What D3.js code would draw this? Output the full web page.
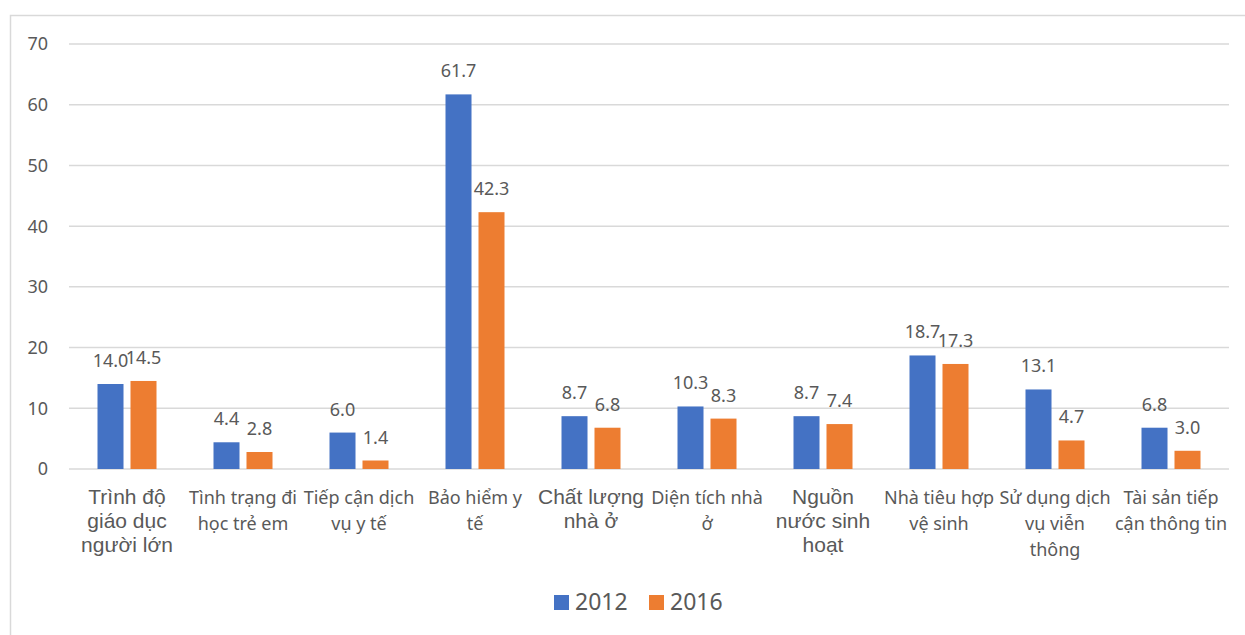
<!DOCTYPE html>
<html>
<head>
<meta charset="utf-8">
<script src="https://cdn.jsdelivr.net/npm/d3@7"></script>
<style>
  body { margin: 0; background: #fff; }
  svg { display: block; }
  text { fill: #595959; }
</style>
</head>
<body>
<svg id="chart" width="1245" height="635"></svg>
<script>
// data
var categories = [
  "Trình độ giáo dục người lớn", "Tình trạng đi học trẻ em", "Tiếp cận dịch vụ y tế",
  "Bảo hiểm y tế", "Chất lượng nhà ở", "Diện tích nhà ở", "Nguồn nước sinh hoạt",
  "Nhà tiêu hợp vệ sinh", "Sử dụng dịch vụ viễn thông", "Tài sản tiếp cận thông tin"
];
var labelLines = [
  ["Trình độ", "giáo dục", "người lớn"],
  ["Tình trạng đi", "học trẻ em"],
  ["Tiếp cận dịch", "vụ y tế"],
  ["Bảo hiểm y", "tế"],
  ["Chất lượng", "nhà ở"],
  ["Diện tích nhà", "ở"],
  ["Nguồn", "nước sinh", "hoạt"],
  ["Nhà tiêu hợp", "vệ sinh"],
  ["Sử dụng dịch", "vụ viễn", "thông"],
  ["Tài sản tiếp", "cận thông tin"]
];
var bigLabel = [true, false, false, false, true, false, true, false, false, false];
var series = ["2012", "2016"];
var values2012 = [14.0, 4.4, 6.0, 61.7, 8.7, 10.3, 8.7, 18.7, 13.1, 6.8];
var values2016 = [14.5, 2.8, 1.4, 42.3, 6.8, 8.3, 7.4, 17.3, 4.7, 3.0];
var yTicks = [0, 10, 20, 30, 40, 50, 60, 70];
var colors = ["#4472C4", "#ED7D31"];

var svg = d3.select('#chart');

// outer frame
svg.append('rect')
  .attr('x', 10.5).attr('y', 15.5)
  .attr('width', 1260).attr('height', 650)
  .attr('fill', 'none').attr('stroke', '#d9d9d9').attr('stroke-width', 1.5);

var x0 = d3.scaleBand().domain(categories).range([69, 1229]);
var x1 = d3.scaleBand().domain(series)
  .range([28.5, x0.bandwidth() - 28.5]).paddingInner(0.212);
var y = d3.scaleLinear().domain([0, 70]).range([469, 44]);

// gridlines + y labels
svg.append('g').selectAll('line')
  .data(yTicks).enter().append('line')
  .attr('x1', 69).attr('x2', 1229)
  .attr('y1', d => y(d)).attr('y2', d => y(d))
  .attr('stroke', '#d9d9d9').attr('stroke-width', 1.5);

svg.append('g').selectAll('text')
  .data(yTicks).enter().append('text')
  .attr('x', 48).attr('y', d => y(d))
  .attr('dy', '0.36em')
  .attr('text-anchor', 'end')
  .style('font-family', 'Noto Sans')
  .style('font-size', '18px')
  .text(d => d);

// bars
var rows = categories.map((c, i) => ({cat: c, vals: [values2012[i], values2016[i]]}));
var groups = svg.selectAll('g.cat')
  .data(rows).enter().append('g')
  .attr('class', 'cat')
  .attr('transform', d => 'translate(' + x0(d.cat) + ',0)');

groups.selectAll('rect')
  .data(d => d.vals.map((v, j) => ({s: series[j], v: v, j: j})))
  .enter().append('rect')
  .attr('x', d => x1(d.s))
  .attr('y', d => y(d.v))
  .attr('width', x1.bandwidth())
  .attr('height', d => y(0) - y(d.v))
  .attr('fill', d => colors[d.j]);

groups.selectAll('text.val')
  .data(d => d.vals.map((v, j) => ({s: series[j], v: v})))
  .enter().append('text')
  .attr('class', 'val')
  .attr('x', d => x1(d.s) + x1.bandwidth() / 2)
  .attr('y', d => y(d.v) - 17)
  .attr('text-anchor', 'middle')
  .style('font-family', 'Noto Sans')
  .style('font-size', '18px')
  .text(d => d.v.toFixed(1));

// category labels
groups.each(function(d, i) {
  var big = bigLabel[i];
  var t = d3.select(this).append('text')
    .attr('text-anchor', 'middle')
    .style('font-family', big ? 'Liberation Sans' : 'Noto Sans')
    .style('font-size', big ? '21px' : '18px');
  labelLines[i].forEach(function(line, k) {
    t.append('tspan')
      .attr('x', x0.bandwidth() / 2)
      .attr('y', 504 + k * (big ? 24 : 26))
      .text(line);
  });
});

// legend
var legend = svg.append('g');
var legendX = [554, 649];
series.forEach(function(s, j) {
  legend.append('rect')
    .attr('x', legendX[j]).attr('y', 595)
    .attr('width', 15).attr('height', 15)
    .attr('fill', colors[j]);
  legend.append('text')
    .attr('x', legendX[j] + 21).attr('y', 610)
    .style('font-family', 'Noto Sans')
    .style('font-size', '23px')
    .text(s);
});
</script>
</body>
</html>
